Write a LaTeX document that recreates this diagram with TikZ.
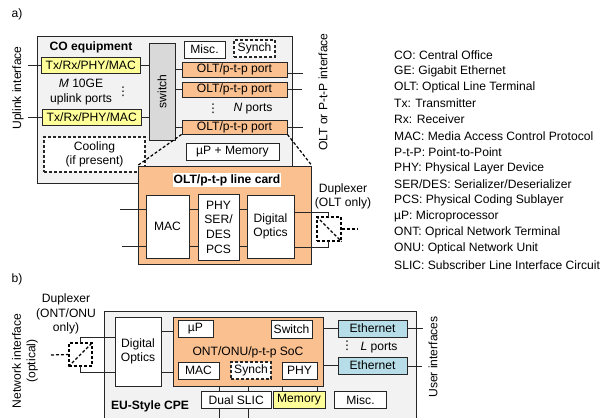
\documentclass[tikz,border=0pt]{standalone}
\usepackage{fontspec}
\setmainfont{Liberation Sans}
\newfontfamily\symfont{DejaVu Sans}
\usetikzlibrary{positioning}
\definecolor{boxgray}{HTML}{F2F2F2}
\definecolor{swgray}{HTML}{D9D9D9}
\definecolor{socorange}{HTML}{FAC090}
\definecolor{portyellow}{HTML}{FFFF99}
\definecolor{portblue}{HTML}{B7DEE8}
\tikzset{
  lbl/.style={inner sep=0pt,font=\fontsize{12.1}{14.6}\selectfont},
  blk/.style={draw=black!85,thick,inner sep=0pt,font=\fontsize{12.1}{14.6}\selectfont,align=center},
  wbox/.style={blk,fill=white},
  dbox/.style={wbox,densely dashed,very thick},
  wire/.style={draw=black!85,semithick},
  ddash/.style={very thick,densely dashed},
  bold/.style={inner sep=0pt,font=\fontsize{12.1}{14.6}\selectfont\bfseries},
  vdot/.style={inner sep=0pt,font=\fontsize{12}{14}\selectfont\symfont}
}
\newcommand{\blkat}[7]{\node[#1,minimum width=#4 pt-#2 pt,minimum height=#5 pt-#3 pt] (#6) at ({(#2+#4)/2},{(#3+#5)/2}) {#7};}
\begin{document}
\begin{tikzpicture}[x=1pt,y=-1pt]
    \useasboundingbox (0,0) rectangle (602,418);
    % a) CO equipment
    \node[lbl] (lbla) at (17,14) {a)};
    \blkat{blk,fill=boxgray}{37}{36}{292}{183}{co}{}
    \node[bold] (cotitle) at (91,47) {CO equipment};
    \blkat{blk,fill=portyellow}{41.5}{57}{140}{73}{txa}{Tx/Rx/PHY/MAC}
    \blkat{blk,fill=portyellow}{42.5}{109}{141}{125}{txb}{Tx/Rx/PHY/MAC}
    \blkat{blk,fill=swgray}{149}{43}{175}{140}{switch}{\rotatebox{90}{switch}}
    \blkat{wbox}{184}{41}{225}{58}{misca}{Misc.}
    \blkat{dbox}{234}{40}{275}{57}{syncha}{Synch}
    \blkat{blk,fill=socorange}{182}{62}{287}{77}{olta}{OLT/p-t-p port}
    \blkat{blk,fill=socorange}{182}{82}{287}{97}{oltb}{OLT/p-t-p port}
    \blkat{blk,fill=socorange}{182}{120}{287}{134}{oltc}{OLT/p-t-p port}
    \blkat{wbox}{186}{143}{279}{160}{memory}{µP + Memory}
    \blkat{dbox}{44}{137}{145}{172}{cooling}{Cooling\\(if present)}
    \node[lbl,align=center] (uplinks) at (81,92) {\textit{M} 10GE\\uplink ports};
    \node[vdot] (dotsa) at (123,92) {⋮};
    \node[vdot] (dotsb) at (213,109) {⋮};
    \node[lbl] (nports) at (253,109) {\textit{N} ports};
    \node[lbl,rotate=90] (uplinkif) at (18,88) {Uplink interface};
    \node[lbl,rotate=90] (oltif) at (323,92) {OLT or P-t-P interface};
    \coordinate (upa) at (28,65);
    \coordinate (upb) at (28,117);
    \coordinate (outa) at (303,73);
    \coordinate (outb) at (302,89);
    \coordinate (outc) at (303,127);
    \draw[wire] (upa) -- (txa.west);
    \draw[wire] (upb) -- (txb.west);
    \draw[wire] (txa.east) -- (txa.east -| switch.west);
    \draw[wire] (txb.east) -- (txb.east -| switch.west);
    \draw[wire] (olta.west -| switch.east) -- (olta.west);
    \draw[wire] (oltb.west -| switch.east) -- (oltb.west);
    \draw[wire] (oltc.west -| switch.east) -- (oltc.west);
    \draw[wire] (olta.east |- outa) -- (outa);
    \draw[wire] (oltb.east |- outb) -- (outb);
    \draw[wire] (oltc.east |- outc) -- (outc);
    % line card
    \blkat{blk,fill=socorange}{138}{166}{311.5}{264}{card}{}
    \draw[ddash] (oltc.south west) -- (card.north west);
    \draw[ddash] (oltc.south east) -- (card.north east);
    \node[bold,fill=white,inner sep=1pt] (cardtitle) at (227,180) {OLT/p-t-p line card};
    \blkat{wbox}{146}{195}{189}{258}{maca}{MAC}
    \blkat{wbox}{198}{194}{239}{260}{phya}{PHY\\SER/\\DES\\PCS}
    \blkat{wbox}{247}{195}{294}{258}{optica}{Digital\\Optics}
    \coordinate (maca1) at (120,209);
    \coordinate (maca2) at (122,246);
    \draw[wire] (maca1) -- (maca1 -| maca.west);
    \draw[wire] (maca2) -- (maca2 -| maca.west);
    \draw[wire] (maca.east |- maca1) -- (phya.west |- maca1);
    \draw[wire] (maca.east |- maca2) -- (phya.west |- maca2);
    \draw[wire] (phya.east |- maca1) -- (optica.west |- maca1);
    \draw[wire] (phya.east |- maca2) -- (optica.west |- maca2);
    \node[lbl,align=center] (duplabela) at (343,196.5) {Duplexer\\(OLT only)};
    \blkat{draw=black,ddash}{317}{217}{341}{241}{dupa}{}
    \draw[ddash] (dupa.north west) -- (dupa.south east);
    \coordinate (dupouta) at (358,229);
    \draw[ddash] (dupa.east) -- (dupouta);
    \draw[wire] (optica.east |- 0,212) -- (328,212) -- (328,217);
    \draw[wire] (optica.east |- 0,247) -- (328,247) -- (328,241);
    % legend
    \foreach \txt [count=\n from 0] in {CO: Central Office,GE: Gigabit Ethernet,OLT: Optical Line Terminal,Tx: Transmitter,Rx: Receiver,MAC: Media Access Control Protocol,P-t-P: Point-to-Point,PHY: Physical Layer Device,SER/DES: Serializer/Deserializer,PCS: Physical Coding Sublayer,µP: Microprocessor,ONT: Oprical Network Terminal,ONU: Optical Network Unit,SLIC: Subscriber Line Interface Circuit}
        \node[lbl,anchor=west] (legend\n) at (394,55+16.15*\n) {\txt};
    % b) CPE
    \node[lbl] (lblb) at (17,279) {b)};
    \fill[boxgray] (104,311) rectangle (416,418);
    \draw[black!85,thick] (104,418) -- (104,311) -- (416,311) -- (416,418);
    \node[lbl,align=center] (duplabelb) at (66,314) {Duplexer\\(ONT/ONU\\only)};
    \node[lbl,rotate=90,align=center] (netif) at (25,361) {Network interface\\(optical)};
    \node[lbl,rotate=90] (userif) at (433,357) {User interfaces};
    \blkat{wbox}{115}{317}{161}{386}{opticb}{Digital\\Optics}
    \blkat{blk,fill=socorange}{173}{317}{323}{386}{soc}{}
    \node[lbl] (soctitle) at (248,352) {ONT/ONU/p-t-p SoC};
    \blkat{wbox}{178}{320}{213}{337}{up}{µP}
    \blkat{wbox}{271}{320}{312}{338}{swb}{Switch}
    \blkat{wbox}{178}{362}{219}{379}{macb}{MAC}
    \blkat{dbox}{231}{362}{271}{379}{synchb}{Synch}
    \blkat{wbox}{282}{362}{317}{379}{phyb}{PHY}
    \blkat{blk,fill=portblue}{338}{320}{407}{337}{etha}{Ethernet}
    \blkat{blk,fill=portblue}{338}{357}{407}{374}{ethb}{Ethernet}
    \node[vdot] (dotsc) at (347,346) {⋮};
    \node[lbl] (lports) at (379,348) {\textit{L} ports};
    \blkat{wbox}{201.5}{391}{271}{408.5}{slic}{Dual SLIC}
    \blkat{blk,fill=portyellow}{273}{391}{325}{408.5}{memb}{Memory}
    \blkat{wbox}{334.5}{391}{386.5}{408.5}{miscb}{Misc.}
    \node[bold] (cpetitle) at (150,406) {EU-Style CPE};
    \blkat{draw=black,ddash}{69}{343}{92}{366}{dupb}{}
    \draw[ddash] (dupb.south west) -- (dupb.north east);
    \coordinate (dupoutb) at (51,355);
    \draw[ddash] (dupoutb) -- (dupb.west);
    \draw[wire] (80,343) -- (80,337) -- (opticb.west |- 0,337);
    \draw[wire] (80,366) -- (80,372) -- (opticb.west |- 0,372);
    \draw[wire] (opticb.east |- 0,331) -- (soc.west |- 0,331);
    \draw[wire] (opticb.east |- 0,372) -- (soc.west |- 0,372);
    \draw[wire] (soc.east |- etha.west) -- (etha.west);
    \draw[wire] (soc.east |- ethb.west) -- (ethb.west);
    \coordinate (useroa) at (423,328);
    \coordinate (useroub) at (422,366);
    \draw[wire] (etha.east |- useroa) -- (useroa);
    \draw[wire] (ethb.east |- useroub) -- (useroub);
    \draw[wire] (219,386) -- (219,391);
    \draw[wire] (248,386) -- (248,391);
    \draw[wire] (282,386) -- (282,391);
    \draw[wire] (317,386) -- (317,391);
    \draw[wire] (219,408.5) -- (219,418);
    \draw[wire] (248,408.5) -- (248,418);
\end{tikzpicture}
\end{document}
